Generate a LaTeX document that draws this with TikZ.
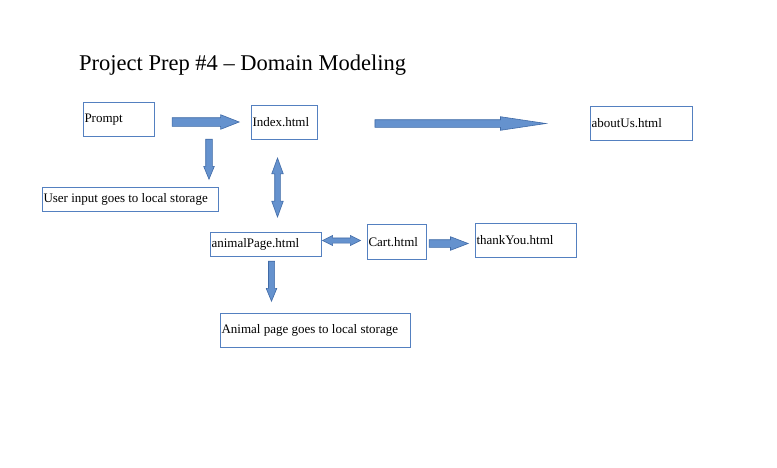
\documentclass[tikz,border=0pt]{standalone}
\usepackage{fontspec}
\setmainfont{Liberation Serif}
\usepackage{tikz}
\usetikzlibrary{shapes.arrows}
\usetikzlibrary{positioning}
\definecolor{boxblue}{RGB}{84,128,192}
\definecolor{arrowfill}{RGB}{101,146,206}
\definecolor{arrowline}{RGB}{64,106,166}

\begin{document}
\begin{tikzpicture}[x=1pt, y=-1pt,
	page/.style={draw=boxblue, line width=1pt, anchor=north west, inner sep=1pt, align=flush left, font=\fontsize{13}{15}\selectfont},
	blockarrow/.style={single arrow, fill=arrowfill, draw=arrowline, line width=0.6pt, inner xsep=0pt, anchor=tip},
	twoway/.style={double arrow, fill=arrowfill, draw=arrowline, line width=0.6pt, inner xsep=0pt}]
				
				\useasboundingbox (0,0) rectangle (777,467);
				
				\node[anchor=base west, inner sep=0pt, font=\fontsize{22.5}{26}\selectfont] (title) at (79,70) {Project Prep \#4 -- Domain Modeling};
				
				\node[page, text width=69pt, minimum height=34pt] (prompt) at (83,102) {Prompt};
				\node[page, text width=64pt, minimum height=34pt] (index) at (251,105) {Index.html};
				\node[page, text width=100pt, minimum height=34pt] (about) at (590,106) {aboutUs.html};
				\node[page, text width=174pt, minimum height=24pt] (userinput) at (42,187) {User input goes to local storage};
				\node[page, text width=109pt, minimum height=24pt] (animal) at (210,232) {animalPage.html};
				\node[page, text width=57pt, minimum height=35pt] (cart) at (367,224) {Cart.html};
				\node[page, text width=99pt, minimum height=34pt] (thanks) at (475,223) {thankYou.html};
				\node[page, text width=188pt, minimum height=34pt] (storage) at (220,313) {Animal page goes to local storage};
				
				\node[blockarrow, minimum height=67pt, inner ysep=4pt, single arrow head extend=3pt, single arrow tip angle=43] (toindex) at (240,122) {};
				\node[blockarrow, minimum height=171pt, inner ysep=3.5pt, single arrow head extend=3pt, single arrow tip angle=17] (toabout) at (548,123.5) {};
				\node[blockarrow, minimum height=40pt, inner ysep=3pt, single arrow head extend=2pt, single arrow tip angle=45, rotate=-90] (touser) at (209,180) {};
				\node[twoway, minimum height=59pt, inner ysep=2.5pt, double arrow head extend=3pt, double arrow tip angle=40, rotate=90] (indexanimal) at (277.5,187.5) {};
				\node[twoway, minimum height=38pt, inner ysep=2.25pt, double arrow head extend=2.5pt, double arrow tip angle=53] (animalcart) at (341.5,240.5) {};
				\node[blockarrow, minimum height=39pt, inner ysep=3.5pt, single arrow head extend=3pt, single arrow tip angle=42] (tothanks) at (469,243.5) {};
				\node[blockarrow, minimum height=40pt, inner ysep=2.75pt, single arrow head extend=2.25pt, single arrow tip angle=45, rotate=-90] (tostorage) at (271.5,302) {};
				
\end{tikzpicture}
\end{document}
